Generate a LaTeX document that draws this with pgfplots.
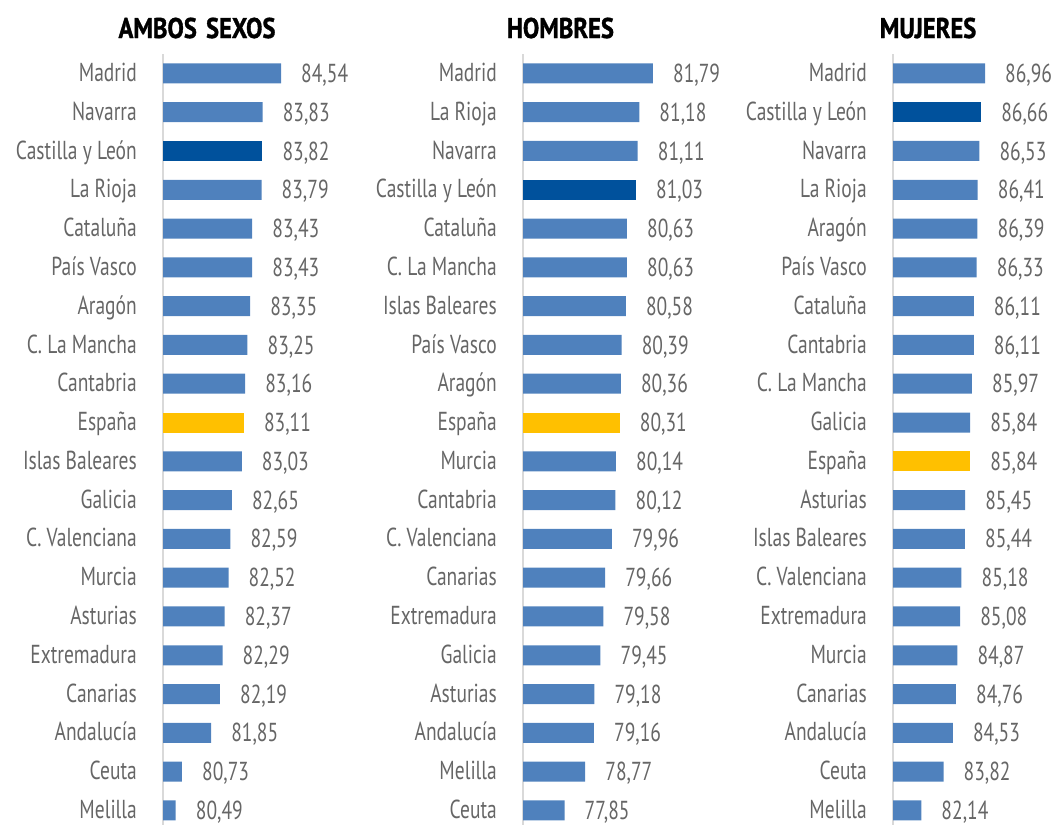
\documentclass[border=0pt]{standalone}
\usepackage{pgfplots}
\pgfplotsset{compat=1.18}
\usepackage{pgfplotstable}
\usepackage{fontspec}
\setmainfont{PT Sans}[FakeStretch=0.75]
\newfontfamily\titlefam{PT Sans}[FakeStretch=0.86, BoldFeatures={FakeBold=1.2}]
\newcommand{\lbl}{\fontsize{26}{30}\selectfont}
\newcommand{\ttl}{\titlefam\fontsize{28.5}{32}\selectfont\bfseries}
\definecolor{barblue}{HTML}{4F81BD}
\definecolor{bardark}{HTML}{00519C}
\definecolor{baryellow}{HTML}{FFC000}
\definecolor{txtgray}{HTML}{666666}
\definecolor{axgray}{HTML}{D9D9D9}

\pgfplotstableread{
i v c
0 84.54 0
1 83.83 0
2 83.82 1
3 83.79 0
4 83.43 0
5 83.43 0
6 83.35 0
7 83.25 0
8 83.16 0
9 83.11 2
10 83.03 0
11 82.65 0
12 82.59 0
13 82.52 0
14 82.37 0
15 82.29 0
16 82.19 0
17 81.85 0
18 80.73 0
19 80.49 0
}\ambos

\pgfplotstableread{
i v c
0 81.79 0
1 81.18 0
2 81.11 0
3 81.03 1
4 80.63 0
5 80.63 0
6 80.58 0
7 80.39 0
8 80.36 0
9 80.31 2
10 80.14 0
11 80.12 0
12 79.96 0
13 79.66 0
14 79.58 0
15 79.45 0
16 79.18 0
17 79.16 0
18 78.77 0
19 77.85 0
}\hombres

\pgfplotstableread{
i v c
0 86.96 0
1 86.66 1
2 86.53 0
3 86.41 0
4 86.39 0
5 86.33 0
6 86.11 0
7 86.11 0
8 85.97 0
9 85.84 0
10 85.84 2
11 85.45 0
12 85.44 0
13 85.18 0
14 85.08 0
15 84.87 0
16 84.76 0
17 84.53 0
18 83.82 0
19 82.14 0
}\mujeres

\pgfplotsset{panel/.style={
  xbar, bar width=20pt, bar shift=0pt,
  y=38.79pt, y dir=reverse, ymin=-0.5, ymax=19.5, xmin=0,
  scale only axis, clip=false,
  axis x line=none, axis y line*=left,
  y axis line style={-, draw=axgray, line width=2pt},
  ytick={0,...,19}, major tick length=0pt, ytick style={draw=none},
  yticklabel style={anchor=east, inner sep=0pt, xshift=-26pt, yshift=1pt, font=\lbl, text=txtgray, text height=18.2pt, text depth=0pt},
  point meta=explicit,
  nodes near coords={\pgfmathprintnumber[fixed,fixed zerofill,precision=2,use comma,assume math mode=true]{\pgfplotspointmeta}},
  every node near coord/.append style={anchor=west, inner sep=0pt, xshift=20pt, font=\lbl, text=txtgray, text height=18.2pt, text depth=0pt},
  title style={anchor=base, yshift=10pt, font=\ttl, text=black},
}}

\begin{document}
\begin{tikzpicture}
\path[use as bounding box] (0,0) rectangle (1061pt,825pt);

\begin{axis}[panel, at={(163pt,771pt)}, anchor=north west, x=26pt, xmax=5,
  title={AMBOS\hspace{3pt} SEXOS}, title style={at={(axis description cs:0.2615,1)}},
  yticklabels={Madrid,Navarra,Castilla y León,La Rioja,Cataluña,País Vasco,Aragón,C. La Mancha,Cantabria,España,Islas Baleares,Galicia,C. Valenciana,Murcia,Asturias,Extremadura,Canarias,Andalucía,Ceuta,Melilla}]
\addplot[fill=barblue, draw=none, restrict expr to domain={\thisrow{c}}{0:0}] table[x expr=\thisrow{v}-80, y=i, meta=v] {\ambos};
\addplot[fill=bardark, draw=none, restrict expr to domain={\thisrow{c}}{1:1}] table[x expr=\thisrow{v}-80, y=i, meta=v] {\ambos};
\addplot[fill=baryellow, draw=none, restrict expr to domain={\thisrow{c}}{2:2}] table[x expr=\thisrow{v}-80, y=i, meta=v] {\ambos};
\end{axis}

\begin{axis}[panel, at={(523pt,771pt)}, anchor=north west, x=22.45pt, xmax=6,
  title={HOMBRES}, title style={at={(axis description cs:0.278,1)}},
  yticklabels={Madrid,La Rioja,Navarra,Castilla y León,Cataluña,C. La Mancha,Islas Baleares,País Vasco,Aragón,España,Murcia,Cantabria,C. Valenciana,Canarias,Extremadura,Galicia,Asturias,Andalucía,Melilla,Ceuta}]
\addplot[fill=barblue, draw=none, restrict expr to domain={\thisrow{c}}{0:0}] table[x expr=\thisrow{v}-76, y=i, meta=v] {\hombres};
\addplot[fill=bardark, draw=none, restrict expr to domain={\thisrow{c}}{1:1}] table[x expr=\thisrow{v}-76, y=i, meta=v] {\hombres};
\addplot[fill=baryellow, draw=none, restrict expr to domain={\thisrow{c}}{2:2}] table[x expr=\thisrow{v}-76, y=i, meta=v] {\hombres};
\end{axis}

\begin{axis}[panel, at={(893pt,771pt)}, anchor=north west, x=13.22pt, xmax=8,
  title={MUJERES}, title style={at={(axis description cs:0.331,1)}},
  yticklabels={Madrid,Castilla y León,Navarra,La Rioja,Aragón,País Vasco,Cataluña,Cantabria,C. La Mancha,Galicia,España,Asturias,Islas Baleares,C. Valenciana,Extremadura,Murcia,Canarias,Andalucía,Ceuta,Melilla}]
\addplot[fill=barblue, draw=none, restrict expr to domain={\thisrow{c}}{0:0}] table[x expr=\thisrow{v}-80, y=i, meta=v] {\mujeres};
\addplot[fill=bardark, draw=none, restrict expr to domain={\thisrow{c}}{1:1}] table[x expr=\thisrow{v}-80, y=i, meta=v] {\mujeres};
\addplot[fill=baryellow, draw=none, restrict expr to domain={\thisrow{c}}{2:2}] table[x expr=\thisrow{v}-80, y=i, meta=v] {\mujeres};
\end{axis}
\end{tikzpicture}
\end{document}
